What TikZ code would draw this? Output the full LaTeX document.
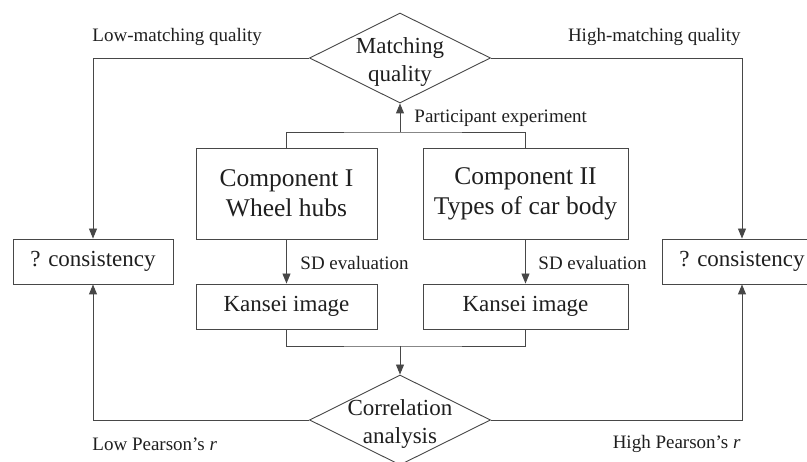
\documentclass[tikz,border=0pt]{standalone}
\usepackage{fontspec}
\setmainfont{Liberation Serif}
\usetikzlibrary{arrows.meta,shapes.geometric,positioning}

\begin{document}
\begin{tikzpicture}[x=1pt,y=-1pt,>={Triangle[length=10pt,width=8pt]},line width=0.9pt,
  every node/.style={text=black!88},
  box/.style={draw=black!72,rectangle,minimum height=45pt,inner sep=0pt,font=\fontsize{23}{28}\selectfont},
  bigbox/.style={draw=black!72,rectangle,minimum height=91pt,inner sep=0pt,align=center,font=\fontsize{25.5}{30}\selectfont},
  decision/.style={draw=black!72,diamond,minimum width=181pt,minimum height=90pt,inner sep=0pt},
  dtext/.style={align=center,inner sep=0pt,font=\fontsize{23}{28}\selectfont},
  lbl/.style={inner sep=0pt,font=\fontsize{19}{22}\selectfont},
  link/.style={draw=black!72}]
\useasboundingbox (0,0) rectangle (807,462);

% decisions
\node[decision] (match) at (400,58) {};
\node[dtext] (matchtxt) at (400,62) {Matching\\quality};
\node[decision] (corr) at (400,420) {};
\node[dtext] (corrtxt) at (400,424) {Correlation\\analysis};

% components and images
\node[bigbox,minimum width=181pt] (comp1) at (286.5,193.5) {Component I\\Wheel hubs};
\node[bigbox,minimum width=205pt] (comp2) at (525.5,193.5) {Component II\\Types of car body};
\node[box,minimum width=181pt] (kansei1) at (286.5,306.5) {Kansei image};
\node[box,minimum width=205pt] (kansei2) at (525.5,306.5) {Kansei image};
\node[box,minimum width=160pt] (cons1) at (93,261.5) {? consistency};
\node[box,minimum width=160pt] (cons2) at (742,261.5) {? consistency};

\coordinate (topjoin) at (400,132);
\coordinate (botjoin) at (400,346);

% connectors
\draw[link] (comp1.north) |- (topjoin) -| (comp2.north);
\draw[link,->] (topjoin) -- (match.south);
\draw[link,->] (comp1.south) -- (kansei1.north);
\draw[link,->] (comp2.south) -- (kansei2.north);
\draw[link] (kansei1.south) |- (botjoin) -| (kansei2.south);
\draw[link,->] (botjoin) -- (corr.north);
\draw[link,->] (match.west) -| (cons1.north);
\draw[link,->] (match.east) -| (cons2.north);
\draw[link,->] (corr.west) -| (cons1.south);
\draw[link,->] (corr.east) -| (cons2.south);

% labels
\node[lbl,anchor=west] (lowmq) at (92,37) {Low-matching quality};
\node[lbl,anchor=east] (highmq) at (741,37) {High-matching quality};
\node[lbl,anchor=west] (partexp) at (414,118) {Participant experiment};
\node[lbl,anchor=west] (sd1) at (300,263) {SD evaluation};
\node[lbl,anchor=west] (sd2) at (538,263) {SD evaluation};
\node[lbl,anchor=west] (lowr) at (92,444) {Low Pearson's \textit{r}};
\node[lbl,anchor=east] (highr) at (741,444) {High Pearson's \textit{r}};
\end{tikzpicture}
\end{document}
